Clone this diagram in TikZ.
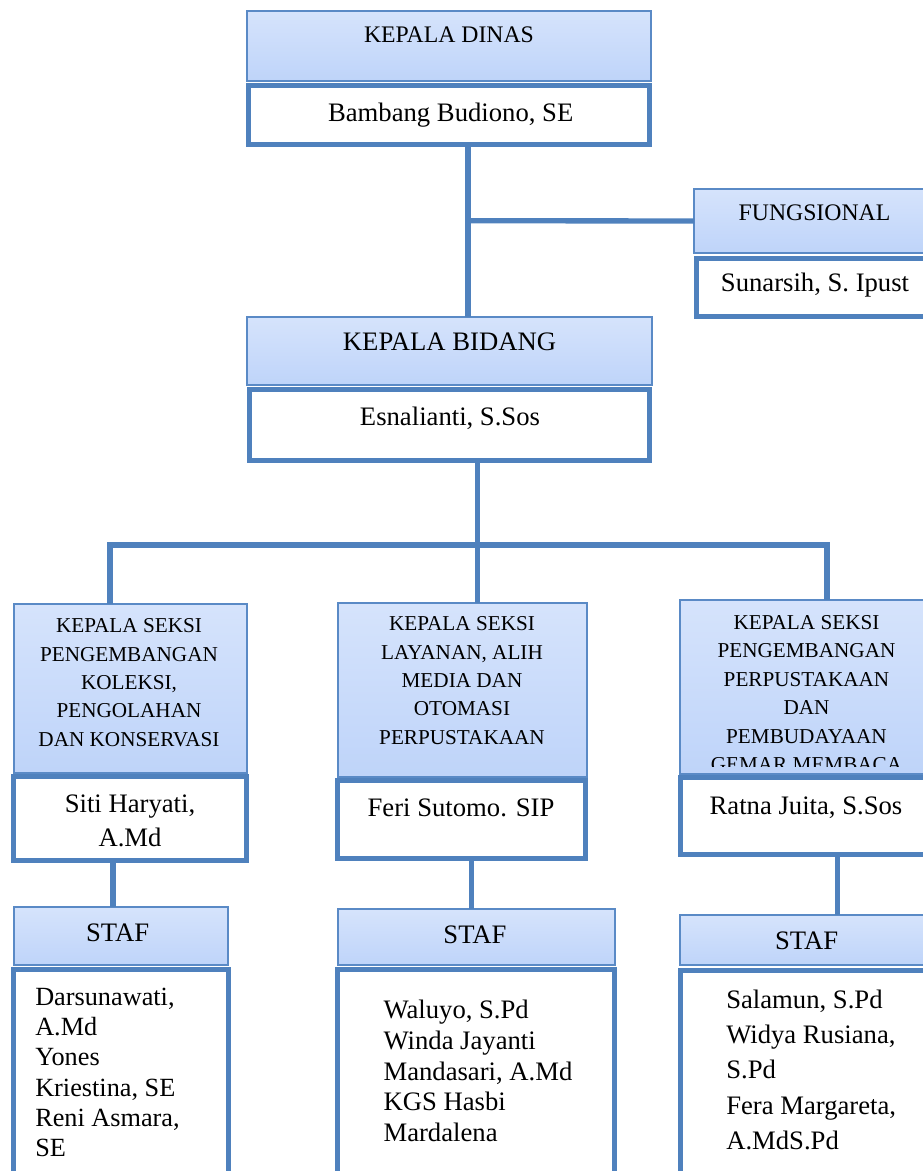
\documentclass[tikz,border=0pt]{standalone}
\usepackage{fontspec}
\setmainfont{Liberation Serif}
\definecolor{bdr}{HTML}{4F81BD}
\definecolor{hbdr}{HTML}{5A8AC6}
\definecolor{hT}{HTML}{E1EBFD}
\definecolor{hM}{HTML}{BDD3F9}
\definecolor{hB}{HTML}{A3C1F6}
\pgfdeclareverticalshading{hdrshade}{100bp}{color(0bp)=(hB); color(22bp)=(hM); color(100bp)=(hT)}
\begin{document}
\begin{tikzpicture}[x=0.75pt,y=-0.75pt,
  sz/.style 2 args={minimum width=#1*0.75pt,minimum height=#2*0.75pt},
  hdr/.style={shade,shading=hdrshade,draw=hbdr,line width=1.5pt,inner sep=0pt,outer sep=0pt},
  bodybox/.style={draw=bdr,fill=white,line width=3.75pt,inner sep=0pt,outer sep=0pt},
  conn/.style={draw=bdr,line width=4pt},
  lbl/.style={anchor=base,inner sep=0pt,font=\fontsize{20}{24}\selectfont},
  small/.style={font=\fontsize{17.8}{22}\selectfont},
  seksi/.style={anchor=base,align=center,inner sep=0pt,font=\fontsize{15.9}{21.2}\selectfont},
  lst/.style={anchor=base west,align=left,inner sep=0pt}
]
\useasboundingbox (0,0) rectangle (923,1171);
\clip (0,0) rectangle (923,1171);

% boxes
\node[hdr,sz={404}{70}] (H1) at (449,46) {};
\node[bodybox,sz={401}{59}] (B1) at (449,115) {};
\node[hdr,sz={276}{64}] (H2) at (832,221) {};
\node[bodybox,sz={273}{58}] (B2) at (833,287.5) {};
\node[hdr,sz={405}{68}] (H3) at (449.5,351) {};
\node[bodybox,sz={400}{70.5}] (B3) at (449,424.75) {};

\node[hdr,sz={233.3}{169.3}] (H4) at (130.3,688.3) {};
\node[bodybox,sz={233}{84}] (B4) at (130,818.5) {};
\node[hdr,sz={249}{173.7}] (H5) at (462.2,690.2) {};
\node[bodybox,sz={248}{77.7}] (B5) at (461.5,819.3) {};
\node[hdr,sz={290}{174}] (H6) at (825,687) {};
\node[bodybox,sz={290}{76.7}] (B6) at (825,815.9) {};

\node[hdr,sz={214.3}{58}] (H7) at (120.9,936) {};
\node[bodybox,sz={214.7}{280.5}] (B7) at (120.9,1109.75) {};
\node[hdr,sz={277}{55.7}] (H8) at (476.2,937.2) {};
\node[bodybox,sz={277}{280.5}] (B8) at (476,1109.75) {};
\node[hdr,sz={290}{50}] (H9) at (825,940) {};
\node[bodybox,sz={290}{279.2}] (B9) at (825,1110.4) {};

% texts
\node[lbl,small] (tH1) at (449,42.7) {KEPALA DINAS};
\node[lbl] (tB1) at (450.7,121.7) {Bambang Budiono, SE};
\node[lbl,small] (tH2) at (814.5,220) {FUNGSIONAL};
\node[lbl] (tB2) at (815,291.7) {Sunarsih, S. Ipust};
\node[lbl] (tH3) at (449.5,350.7) {KEPALA BIDANG};
\node[lbl] (tB3) at (450,425) {Esnalianti, S.Sos};

\node[seksi] (tH4) at (129,746) {KEPALA SEKSI\\PENGEMBANGAN\\KOLEKSI,\\PENGOLAHAN\\DAN KONSERVASI};
\node[seksi] (tH5) at (462,744) {KEPALA SEKSI\\LAYANAN, ALIH\\MEDIA DAN\\OTOMASI\\PERPUSTAKAAN};
\begin{scope}
\clip (681,601) rectangle (968,766);
\node[seksi,font=\fontsize{15.9}{21.4}\selectfont] (tH6) at (806.5,771.7) {KEPALA SEKSI\\PENGEMBANGAN\\PERPUSTAKAAN\\DAN\\PEMBUDAYAAN\\GEMAR MEMBACA};
\end{scope}

\node[lbl,align=center,font=\fontsize{20}{25.3}\selectfont] (tB4) at (130,846.7) {Siti Haryati,\\A.Md};
\node[lbl] (tB5) at (461,816.7) {Feri Sutomo. SIP};
\node[lbl] (tB6) at (806,814) {Ratna Juita, S.Sos};

\node[lbl] (tH7) at (117.6,941.7) {STAF};
\node[lbl] (tH8) at (475,943.3) {STAF};
\node[lbl] (tH9) at (806.7,949.3) {STAF};

\node[lst,font=\fontsize{19.7}{22.7}\selectfont] (tB7) at (35,1156.7) {Darsunawati,\\A.Md\\Yones\\Kriestina, SE\\Reni Asmara,\\SE};
\node[lst,font=\fontsize{20}{23.1}\selectfont] (tB8) at (383.3,1141.7) {Waluyo, S.Pd\\Winda Jayanti\\Mandasari, A.Md\\KGS Hasbi\\Mardalena};
\node[lst,font=\fontsize{20}{26.4}\selectfont] (tB9) at (726,1149.3) {Salamun, S.Pd\\Widya Rusiana,\\S.Pd\\Fera Margareta,\\A.MdS.Pd};

% connectors
\coordinate (j1) at (468,220.7);
\coordinate (j2) at (477.5,545);
\coordinate (cl) at (110,545);
\coordinate (cr) at (827,545);
\coordinate (v1) at (113,880);
\coordinate (v2) at (471.7,880);
\coordinate (v3) at (837.7,880);
\draw[conn] (B1.south -| j1) -- (H3.north -| j1);
\draw[conn] (j1) -- (H2.west);
\draw[conn] (B3.south -| j2) -- (H5.north -| j2);
\draw[conn] (H4.north -| cl) -- (cl) -- (cr) -- (H6.north -| cr);
\draw[conn] (B4.south -| v1) -- (H7.north -| v1);
\draw[conn] (B5.south -| v2) -- (H8.north -| v2);
\draw[conn] (B6.south -| v3) -- (H9.north -| v3);
\end{tikzpicture}
\end{document}
